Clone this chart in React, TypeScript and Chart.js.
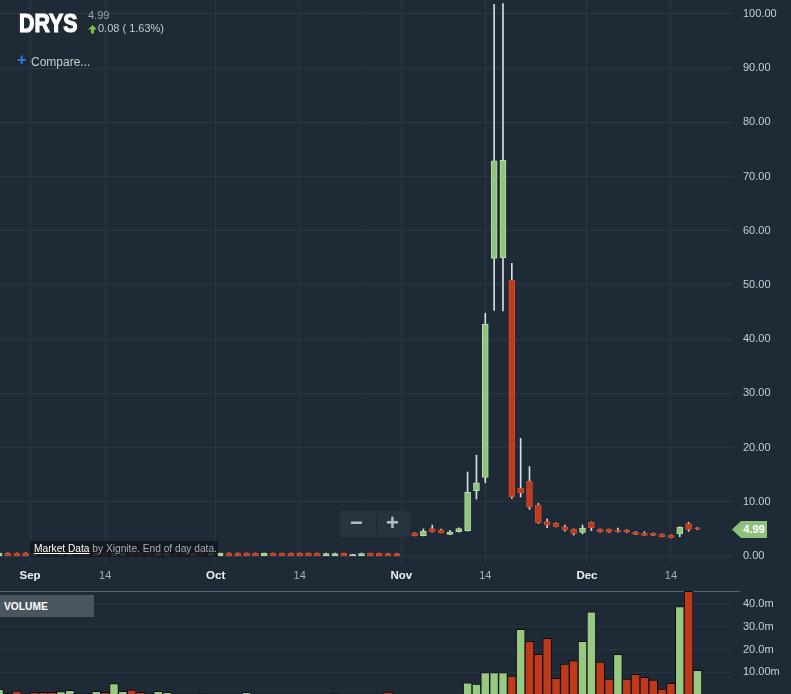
import { useEffect, useRef } from 'react';
import { Chart, registerables } from 'chart.js';

Chart.register(...registerables);

// ---- data (trading days Aug 26 – Dec 19) ----
const dates = [
  'Aug 26', 'Aug 29', 'Aug 30', 'Aug 31',
  'Sep 1', 'Sep 2', 'Sep 6', 'Sep 7', 'Sep 8', 'Sep 9', 'Sep 12', 'Sep 13', 'Sep 14', 'Sep 15', 'Sep 16',
  'Sep 19', 'Sep 20', 'Sep 21', 'Sep 22', 'Sep 23', 'Sep 26', 'Sep 27', 'Sep 28', 'Sep 29', 'Sep 30',
  'Oct 3', 'Oct 4', 'Oct 5', 'Oct 6', 'Oct 7', 'Oct 10', 'Oct 11', 'Oct 12', 'Oct 13', 'Oct 14',
  'Oct 17', 'Oct 18', 'Oct 19', 'Oct 20', 'Oct 21', 'Oct 24', 'Oct 25', 'Oct 26', 'Oct 27', 'Oct 28', 'Oct 31',
  'Nov 1', 'Nov 2', 'Nov 3', 'Nov 4', 'Nov 7', 'Nov 8', 'Nov 9', 'Nov 10', 'Nov 11', 'Nov 14',
  'Nov 15', 'Nov 16', 'Nov 17', 'Nov 18', 'Nov 21', 'Nov 22', 'Nov 23', 'Nov 25', 'Nov 28', 'Nov 29', 'Nov 30',
  'Dec 1', 'Dec 2', 'Dec 5', 'Dec 6', 'Dec 7', 'Dec 8', 'Dec 9', 'Dec 12', 'Dec 13', 'Dec 14', 'Dec 15', 'Dec 16', 'Dec 19',
];

const openPrices = [
  0.05, 0.55, 0.52, 0.55, 0.04, 0.55, 0.52, 0.04, 0.05, 0.55, 0.52, 0.04, 0.52, 0.04, 0.05,
  0.55, 0.52, 0.5, 0.04, 0.04, 0.5, 0.5, 0.04, 0.5, 0.04,
  0.05, 0.55, 0.52, 0.52, 0.5, 0.04, 0.5, 0.5, 0.5, 0.5,
  0.5, 0.5, 0.04, 0.04, 0.5, 0.25, 0.04, 0.48, 0.48, 0.46, 0.44,
  null, 4.25, 3.75, 5.05, 4.85, 4.0, 4.48, 4.67, 12.05, 14.5,
  54.9, 55.0, 50.9, 12.5, 13.8, 9.4, 6.33, 6.03, 5.4, 4.93, 4.37,
  6.22, 4.93, 4.9, 4.8, 4.78, 4.43, 4.24, 4.2, 4.06, 3.87, 4.06, 5.96, 5.2,
];
const highPrices = [
  0.58, 0.6, 0.57, 0.6, 0.55, 0.6, 0.57, 0.55, 0.56, 0.6, 0.57, 0.55, 0.57, 0.55, 0.56,
  0.6, 0.57, 0.55, 0.55, 0.55, 0.55, 0.55, 0.55, 0.55, 0.55,
  0.56, 0.6, 0.57, 0.57, 0.55, 0.55, 0.55, 0.55, 0.55, 0.55,
  0.55, 0.55, 0.55, 0.55, 0.55, 0.3, 0.55, 0.52, 0.52, 0.5, 0.48,
  null, 4.3, 5.0, 5.7, 4.95, 4.75, 5.2, 15.5, 18.6, 44.8,
  101.8, 101.9, 54.0, 21.7, 16.5, 9.7, 6.83, 6.1, 5.72, 5.0, 5.72,
  6.3, 5.0, 4.95, 5.17, 4.85, 4.5, 4.48, 4.25, 4.1, 3.9, 5.4, 6.22, 5.25,
];
const lowPrices = [
  0.0, 0.0, 0.0, 0.0, 0.0, 0.0, 0.0, 0.0, 0.0, 0.0, 0.0, 0.0, 0.0, 0.0, 0.0,
  0.0, 0.0, 0.0, 0.0, 0.0, 0.0, 0.0, 0.0, 0.0, 0.0,
  0.0, 0.0, 0.0, 0.0, 0.0, 0.0, 0.0, 0.0, 0.0, 0.0,
  0.0, 0.0, 0.0, 0.0, 0.0, 0.2, 0.0, 0.0, 0.0, 0.0, 0.0,
  null, 3.7, 3.7, 4.4, 4.25, 3.95, 4.4, 4.6, 10.5, 13.5,
  45.3, 45.2, 10.6, 10.9, 8.6, 6.0, 5.22, 5.35, 4.56, 3.87, 4.06,
  4.67, 4.4, 4.35, 4.4, 4.33, 3.95, 3.8, 3.75, 3.5, 3.33, 3.56, 4.56, 4.85,
];
const closePrices = [
  0.52, 0.06, 0.05, 0.06, 0.5, 0.06, 0.05, 0.5, 0.52, 0.06, 0.05, 0.48, 0.04, 0.48, 0.5,
  0.06, 0.05, 0.04, 0.48, 0.48, 0.04, 0.04, 0.46, 0.04, 0.48,
  0.5, 0.06, 0.05, 0.05, 0.04, 0.48, 0.04, 0.04, 0.04, 0.04,
  0.04, 0.03, 0.46, 0.46, 0.03, 0.25, 0.46, 0.02, 0.02, 0.01, 0.01,
  null, 3.75, 4.6, 4.5, 4.3, 4.43, 5.04, 11.8, 13.5, 42.8,
  72.9, 73.0, 10.9, 11.7, 9.0, 6.15, 5.72, 5.4, 4.8, 4.19, 5.17,
  5.22, 4.48, 4.42, 4.45, 4.38, 4.0, 3.82, 3.8, 3.56, 3.38, 5.3, 4.91, 4.99,
];

// volume in millions
const volumes = [
  2.5, 0.6, 1.75, 0.5, 1.2, 1.2, 1.2, 1.5, 2.0, 0.5, 0.5, 1.6, 1.2, 5.0, 1.6,
  2.2, 1.2, 0.5, 1.6, 1.2, 0.4, 0.4, 0.4, 0.6, 0.4,
  0.4, 0.4, 0.4, 1.2, 0.4, 0.4, 0.4, 0.4, 0.4, 0.4,
  0.4, 0.4, 0.4, 0.6, 0.4, 0.4, 0.4, 0.4, 0.4, 1.3, 0.4,
  null, 0.3, 0.3, 0.3, 0.3, 0.3, 0.3, 5.4, 4.8, 9.8,
  9.8, 9.8, 8.35, 28.9, 23.6, 17.9, 24.9, 7.3, 13.6, 15.1, 23.6,
  36.6, 14.5, 7.0, 17.9, 7.0, 9.1, 7.8, 6.6, 2.6, 5.1, 38.8, 45.6, 10.8,
];
// 1 = close above previous close, 0 = below
const volumeUp = [
  1, 0, 0, 0, 0, 0, 0, 1, 1, 0, 0, 1, 0, 1, 1,
  0, 0, 0, 1, 1, 0, 0, 1, 0, 1,
  1, 0, 0, 1, 0, 1, 0, 0, 0, 0,
  0, 0, 1, 1, 0, 0, 1, 0, 0, 0, 0,
  0, 0, 1, 0, 0, 1, 1, 1, 1, 1,
  1, 1, 0, 1, 0, 0, 0, 0, 0, 0, 1,
  1, 0, 0, 1, 0, 0, 0, 0, 0, 0, 1, 0, 1,
];

const xTickPositions = [3.5, 12, 24.5, 34, 45.5, 55, 66.5, 76];
const xTickLabels = ['Sep', '14', 'Oct', '14', 'Nov', '14', 'Dec', '14'];
const priceTicks = [0, 10, 20, 30, 40, 50, 60, 70, 80, 90, 100];
const volumeTicks = [10, 20, 30, 40];
const volumeTickLabels = ['10.00m', '20.0m', '30.0m', '40.0m'];

const symbol = 'DRYS';
const lastPrice = '4.99';
const change = '0.08 ( 1.63%)';

// ---- styles ----
const FONT = '"Liberation Sans", Arial, Helvetica, sans-serif';
const BG = '#1e2a36';
const GRID = '#2a3744';
const GREEN = '#92c37c';
const GREEN_EDGE = '#b8dea5';
const RED = '#c13a1c';
const RED_EDGE = '#cf4a2b';
const DOJI = '#dfe4e8';
const WICK = '#d6dce1';
const VOL_GREEN = '#98c983';
const VOL_RED = '#bf3a1a';

const X_MIN = 0.106;
const X_MAX = 83.02;

const noPadX = (s: any) => {
  s.paddingLeft = 0;
  s.paddingRight = 0;
};

function priceConfig(): any {
  const idx = dates.map((_, i) => i).filter((i) => openPrices[i] != null);
  const wicks = idx.map((i) => ({ x: i, y: [lowPrices[i] as number, highPrices[i] as number] }));
  const bodies = idx.map((i) => ({ x: i, y: [openPrices[i] as number, closePrices[i] as number] }));
  const fill = idx.map((i) => {
    const o = openPrices[i] as number, c = closePrices[i] as number;
    return c > o ? GREEN : c < o ? RED : DOJI;
  });
  const edge = idx.map((i) => {
    const o = openPrices[i] as number, c = closePrices[i] as number;
    return c > o ? GREEN_EDGE : c < o ? RED_EDGE : DOJI;
  });
  return {
    type: 'bar',
    data: {
      datasets: [
        {
          data: bodies,
          backgroundColor: fill,
          borderColor: edge,
          borderWidth: 1,
          borderSkipped: false,
          barThickness: 6,
          minBarLength: 1,
          grouped: false,
          order: 0,
        },
        {
          data: wicks,
          backgroundColor: WICK,
          borderWidth: 0,
          barThickness: 1,
          grouped: false,
          order: 1,
        },
      ],
    },
    options: {
      animation: false,
      responsive: false,
      maintainAspectRatio: false,
      events: [],
      layout: { padding: 0 },
      plugins: { legend: { display: false }, tooltip: { enabled: false } },
      scales: {
        x: {
          type: 'linear',
          offset: false,
          min: X_MIN,
          max: X_MAX,
          afterBuildTicks: (s: any) => {
            s.ticks = xTickPositions.map((v) => ({ value: v }));
          },
          afterFit: (s: any) => {
            s.height = 28;
            noPadX(s);
          },
          grid: { color: GRID, drawTicks: false, offset: false },
          border: { display: false },
          ticks: {
            autoSkip: false,
            maxRotation: 0,
            padding: 6,
            callback: (_v: any, i: number) => xTickLabels[i],
            font: (ctx: any) => {
              const month = ctx.index % 2 === 0;
              return { family: FONT, size: month ? 11.5 : 11, weight: month ? 'bold' : 'normal' };
            },
            color: (ctx: any) => (ctx.index % 2 === 0 ? '#eef1f3' : '#a9b1b8'),
          },
        },
        y: {
          type: 'linear',
          position: 'right',
          min: -1.29,
          max: 102.58,
          afterBuildTicks: (s: any) => {
            s.ticks = priceTicks.map((v) => ({ value: v }));
          },
          afterFit: (s: any) => {
            s.width = 58;
            s.paddingTop = 0;
            s.paddingBottom = 0;
          },
          grid: { color: GRID, drawTicks: false },
          border: { display: false },
          ticks: {
            padding: 10,
            callback: (v: any) => Number(v).toFixed(2),
            font: { family: FONT, size: 11 },
            color: '#c9ced3',
          },
        },
      },
    },
  };
}

function volumeConfig(): any {
  const idx = dates.map((_, i) => i).filter((i) => volumes[i] != null);
  return {
    type: 'bar',
    data: {
      datasets: [
        {
          data: idx.map((i) => ({ x: i, y: volumes[i] as number })),
          backgroundColor: idx.map((i) => (volumeUp[i] ? VOL_GREEN : VOL_RED)),
          borderColor: '#0c0f12',
          borderWidth: 1,
          barPercentage: 1,
          categoryPercentage: 1,
        },
      ],
    },
    options: {
      animation: false,
      responsive: false,
      maintainAspectRatio: false,
      events: [],
      layout: { padding: 0 },
      plugins: { legend: { display: false }, tooltip: { enabled: false } },
      scales: {
        x: {
          type: 'linear',
          offset: false,
          min: X_MIN,
          max: X_MAX,
          display: false,
          grid: { offset: false },
        },
        y: {
          type: 'linear',
          position: 'right',
          min: 0,
          max: 45.7,
          afterBuildTicks: (s: any) => {
            s.ticks = volumeTicks.map((v) => ({ value: v }));
          },
          afterFit: (s: any) => {
            s.width = 58;
            s.paddingTop = 0;
            s.paddingBottom = 0;
          },
          grid: { color: '#263340', drawTicks: false },
          border: { display: false },
          ticks: {
            padding: 10,
            callback: (_v: any, i: number) => volumeTickLabels[i],
            font: { family: FONT, size: 11 },
            color: '#c9ced3',
          },
        },
      },
    },
  };
}

export default function App() {
  const priceRef = useRef<HTMLCanvasElement>(null);
  const volRef = useRef<HTMLCanvasElement>(null);

  useEffect(() => {
    const pc = new Chart(priceRef.current as HTMLCanvasElement, priceConfig());
    const vc = new Chart(volRef.current as HTMLCanvasElement, volumeConfig());
    return () => {
      pc.destroy();
      vc.destroy();
    };
  }, []);

  const abs = (s: any) => ({ position: 'absolute', whiteSpace: 'nowrap', ...s }) as any;

  return (
    <div
      style={{
        position: 'fixed',
        left: 0,
        top: 0,
        width: 791,
        height: 694,
        background: BG,
        overflow: 'hidden',
        fontFamily: FONT,
      }}
    >
      <canvas ref={priceRef} width={791} height={591} style={{ position: 'absolute', left: 0, top: 0, display: 'block' }} />
      <div style={abs({ left: 0, top: 591, width: 740, height: 1, background: '#59646f' })} />
      <canvas ref={volRef} width={791} height={104} style={{ position: 'absolute', left: 0, top: 591, display: 'block' }} />

      {/* header */}
      <div
        style={abs({
          left: 19,
          top: 10,
          fontWeight: 'bold',
          fontSize: 26,
          lineHeight: '26px',
          color: '#ffffff',
          WebkitTextStroke: '1.2px #ffffff',
          transform: 'scaleX(0.82)',
          transformOrigin: '0 0',
        })}
      >
        {symbol}
      </div>
      <div style={abs({ left: 88, top: 10, fontSize: 11, lineHeight: '11px', color: '#9aa2aa' })}>{lastPrice}</div>
      <svg width={10} height={9} style={abs({ left: 88, top: 25 })}>
        <polygon points="0,4.5 4.5,0 9,4.5 6,4.5 6,8.5 3,8.5 3,4.5" fill="#7cc142" />
      </svg>
      <div style={abs({ left: 98, top: 23, fontSize: 11, lineHeight: '11px', color: '#c5cbd0' })}>{change}</div>
      <div style={abs({ left: 17, top: 52, fontSize: 16, lineHeight: '16px', fontWeight: 'bold', color: '#2f80e6' })}>+</div>
      <div style={abs({ left: 31, top: 56, fontSize: 12, lineHeight: '12px', color: '#c5cbd0' })}>Compare...</div>

      {/* zoom buttons */}
      <div style={abs({ left: 340, top: 511, width: 70, height: 26, background: '#27333f', borderRadius: 2 })} />
      <div style={abs({ left: 376, top: 515, width: 1, height: 18, background: '#1d2833' })} />
      <div style={abs({ left: 350, top: 512, fontSize: 22, lineHeight: '22px', fontWeight: 'bold', color: '#b5bcc3' })}>−</div>
      <div style={abs({ left: 386, top: 512, fontSize: 22, lineHeight: '22px', fontWeight: 'bold', color: '#b5bcc3' })}>+</div>

      {/* data attribution */}
      <div style={abs({ left: 30, top: 541, width: 188, height: 16, background: 'rgba(16,21,27,0.85)' })}>
        <div style={abs({ left: 4, top: 0, fontSize: 10.2, lineHeight: '16px', color: '#a7aeb5' })}>
          <span style={{ color: '#ffffff', textDecoration: 'underline' }}>Market Data</span> by Xignite. End of day data.
        </div>
      </div>

      {/* last price tag */}
      <div
        style={abs({
          left: 732,
          top: 521,
          width: 35,
          height: 17,
          background: '#8dc07a',
          clipPath: 'polygon(0 50%, 9px 0, 100% 0, 100% 100%, 9px 100%)',
          paddingLeft: 9,
          boxSizing: 'border-box',
          textAlign: 'center',
          fontSize: 11,
          lineHeight: '17px',
          fontWeight: 'bold',
          color: '#ffffff',
        })}
      >
        {lastPrice}
      </div>

      {/* volume label */}
      <div style={abs({ left: 0, top: 595, width: 94, height: 22, background: '#4b555f' })}>
        <div
          style={abs({
            left: 4,
            top: 0,
            fontWeight: 'bold',
            fontSize: 11,
            lineHeight: '22px',
            color: '#ffffff',
            transform: 'scaleX(0.93)',
            transformOrigin: '0 0',
          })}
        >
          VOLUME
        </div>
      </div>
    </div>
  );
}
